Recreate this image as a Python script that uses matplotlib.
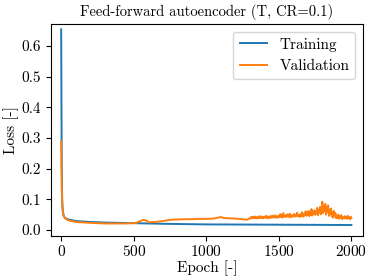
import matplotlib
matplotlib.use("Agg")
import matplotlib.pyplot as plt

# === Data ===
train_epochs = [0, 2, 4, 6, 8, 10, 15, 20, 30, 50, 100, 200, 300, 500, 700, 1000, 1500, 2000]
train_loss = [0.655, 0.40, 0.20, 0.12, 0.085, 0.07, 0.05, 0.043, 0.038, 0.034, 0.029,
              0.026, 0.024, 0.022, 0.020, 0.018, 0.017, 0.016]

val_epochs_early = [0, 2, 4, 6, 8, 10, 15, 20, 30, 50, 100, 200, 300, 450, 520, 550, 570,
                    590, 600, 650, 700, 750, 800, 850, 900, 950, 1000, 1050, 1080, 1100,
                    1120, 1150, 1200, 1250, 1280]
val_loss_early = [0.29, 0.20, 0.14, 0.10, 0.08, 0.065, 0.05, 0.043, 0.037, 0.031, 0.026,
                  0.023, 0.021, 0.021, 0.023, 0.030, 0.033, 0.030, 0.025, 0.026, 0.029,
                  0.033, 0.034, 0.035, 0.035, 0.036, 0.036, 0.037, 0.040, 0.042, 0.039,
                  0.038, 0.037, 0.035, 0.033]

# noisy tail, every 5 epochs from 1300 to 2000
val_epochs_late = list(range(1300, 2001, 5))
val_loss_late = [
    0.038, 0.041, 0.037, 0.043, 0.039, 0.042, 0.038, 0.044, 0.040, 0.037,
    0.042, 0.039, 0.044, 0.038, 0.041, 0.045, 0.039, 0.042, 0.038, 0.043,
    0.040, 0.044, 0.039, 0.046, 0.041, 0.038, 0.043, 0.040, 0.045, 0.039,
    0.042, 0.047, 0.040, 0.044, 0.041, 0.048, 0.042, 0.039, 0.045, 0.043,
    0.046, 0.041, 0.052, 0.043, 0.048, 0.040, 0.055, 0.044, 0.047, 0.042,
    0.049, 0.043, 0.051, 0.045, 0.042, 0.053, 0.046, 0.041, 0.048, 0.044,
    0.047, 0.052, 0.043, 0.049, 0.045, 0.056, 0.044, 0.050, 0.046, 0.042,
    0.051, 0.045, 0.058, 0.047, 0.043, 0.053, 0.049, 0.061, 0.046, 0.050,
    0.048, 0.062, 0.045, 0.055, 0.050, 0.068, 0.047, 0.058, 0.052, 0.064,
    0.049, 0.060, 0.053, 0.072, 0.048, 0.065, 0.057, 0.075, 0.051, 0.068,
    0.092, 0.055, 0.078, 0.062, 0.085, 0.050, 0.074, 0.058, 0.080, 0.046,
    0.066, 0.052, 0.070, 0.044, 0.058, 0.040, 0.062, 0.047, 0.055, 0.038,
    0.046, 0.039, 0.050, 0.036, 0.044, 0.041, 0.048, 0.035, 0.043, 0.040,
    0.037, 0.045, 0.039, 0.042, 0.036, 0.046, 0.038, 0.041, 0.035, 0.043,
    0.039,
]

val_epochs = val_epochs_early + val_epochs_late
val_loss = val_loss_early + val_loss_late

# === Style ===
plt.rcParams.update({
    "font.family": "cmr10",
    "mathtext.fontset": "cm",
    "axes.formatter.use_mathtext": True,
    "font.size": 10.5,
})

fig = plt.figure(figsize=(3.74, 2.80), dpi=100)
ax = fig.add_axes([0.1364, 0.157, 0.8342, 0.757])

ax.plot(train_epochs, train_loss, color="#1f77b4", lw=1.4, label="Training")
ax.plot(val_epochs, val_loss, color="#ff7f0e", lw=1.4, label="Validation")

ax.set_xlim(-70, 2080)
ax.set_ylim(-0.02, 0.672)
ax.set_xticks([0, 500, 1000, 1500, 2000])
ax.set_yticks([0.0, 0.1, 0.2, 0.3, 0.4, 0.5, 0.6])
ax.set_yticklabels(["0.0", "0.1", "0.2", "0.3", "0.4", "0.5", "0.6"])
ax.tick_params(labelsize=11)
ax.tick_params(axis="x", pad=2.5)

ax.set_title("Feed-forward autoencoder (T, CR=0.1)", fontsize=10.5)
ax.set_xlabel("Epoch [-]", fontsize=11, labelpad=0.5)
ax.set_ylabel("Loss [-]", fontsize=11, labelpad=2)
ax.legend(loc="upper right", fontsize=11, handlelength=1.8)

fig.savefig("out.png", dpi=100)
